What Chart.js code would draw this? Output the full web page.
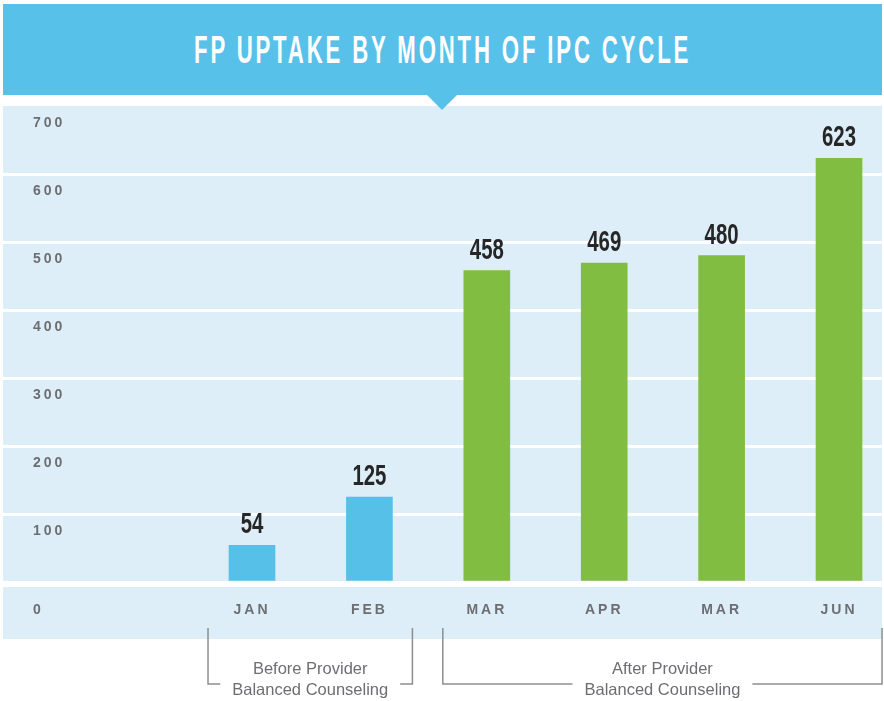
<!DOCTYPE html>
<html>
<head>
<meta charset="utf-8">
<script src="https://cdn.jsdelivr.net/npm/chart.js@4.4.1/dist/chart.umd.min.js"></script>
<style>
  html, body { margin: 0; padding: 0; background: #fff; }
  #wrap { position: relative; width: 884px; height: 701px; overflow: hidden; }
  #chart { position: absolute; left: 0; top: 0; }
  #banner { position: absolute; left: 3px; top: 4px; width: 879px; height: 91px; background: #58c1e9; z-index: 2; }
  #banner:after { content: ''; position: absolute; left: 424px; top: 91px;
    border-left: 15px solid transparent; border-right: 15px solid transparent; border-top: 15px solid #58c1e9; }
  #title { position: absolute; left: 191px; top: 26px; white-space: nowrap; color: #fff;
    font: bold 39px 'Liberation Sans', Arial, sans-serif; line-height: 39px; letter-spacing: 5px;
    transform-origin: 0 0; }
</style>
</head>
<body>
<div id="wrap">
  <canvas id="chart" width="884" height="701" style="width:884px;height:701px"></canvas>
  <div id="banner"><span id="title">FP UPTAKE BY MONTH OF IPC CYCLE</span></div>
</div>
<script>
const months = ['JAN', 'FEB', 'MAR', 'APR', 'MAR', 'JUN'];
const uptake = [54, 125, 458, 469, 480, 623];
const yTicks = [0, 100, 200, 300, 400, 500, 600, 700];

// groups shown with brackets under the axis
const groupLabels = [['Before Provider', 'Balanced Counseling'], ['After Provider', 'Balanced Counseling']];
const groupFirst = [0, 2];
const groupLast = [1, 5];
const groupColors = ['#57c0e8', '#80bd41'];

// stretch the title to the banner width
const title = document.getElementById('title');
title.style.transform = 'scaleX(' + (497 / title.offsetWidth) + ')';

function groupOf(i) {
    for (let g = 0; g < groupFirst.length; g++) {
        if (i >= groupFirst[g] && i <= groupLast[g]) return g;
    }
    return 0;
}

const labelFont = 'bold 14px "Liberation Sans", Arial, sans-serif';
const gray = '#6d6e71';

const decor = {
    id: 'decor',
    beforeDraw(chart) {
        const { ctx, chartArea: a } = chart;
        ctx.save();
        ctx.fillStyle = '#ddeef8';
        ctx.fillRect(a.left, a.top, a.right - a.left, a.bottom - a.top);
        ctx.fillRect(a.left, a.bottom + 5, a.right - a.left, 52);
        ctx.restore();
        ctx.letterSpacing = '3px';
    },
    beforeDatasetsDraw(chart) {
        chart.ctx.letterSpacing = '0px';
    },
    afterDatasetsDraw(chart) {
        const ctx = chart.ctx;
        const meta = chart.getDatasetMeta(0);
        ctx.save();
        ctx.fillStyle = '#262626';
        ctx.font = 'bold 30px "Liberation Sans", Arial, sans-serif';
        ctx.textAlign = 'center';
        ctx.textBaseline = 'alphabetic';
        meta.data.forEach((bar, i) => {
            ctx.save();
            ctx.translate(bar.x, bar.y - 12);
            ctx.scale(0.68, 1);
            ctx.fillText(String(uptake[i]), 0, 0);
            ctx.restore();
        });
        ctx.restore();
    },
    afterDraw(chart) {
        const { ctx, chartArea: a, scales: { x, y } } = chart;
        ctx.save();
        // the zero label sits in the bottom band
        ctx.letterSpacing = '3px';
        ctx.font = labelFont;
        ctx.fillStyle = gray;
        ctx.textAlign = 'left';
        ctx.textBaseline = 'middle';
        ctx.fillText(String(yTicks[0]), a.left + 30, y.getPixelForValue(yTicks[0]) + 28);

        // brackets
        ctx.letterSpacing = '0px';
        ctx.font = '16.5px "Liberation Sans", Arial, sans-serif';
        ctx.textAlign = 'center';
        ctx.strokeStyle = '#8d8e90';
        ctx.lineWidth = 1.5;
        const top = a.bottom + 46, bot = a.bottom + 102;
        groupLabels.forEach((lines, g) => {
            const x0 = x.getPixelForValue(groupFirst[g]) - 44;
            const x1 = x.getPixelForValue(groupLast[g]) + 43;
            const cx = (x0 + x1) / 2;
            const w = ctx.measureText(lines[1]).width;
            ctx.beginPath();
            ctx.moveTo(x0, top);
            ctx.lineTo(x0, bot);
            ctx.lineTo(cx - w / 2 - 12, bot);
            ctx.moveTo(cx + w / 2 + 12, bot);
            ctx.lineTo(x1, bot);
            ctx.lineTo(x1, top);
            ctx.stroke();
            ctx.fillText(lines[0], cx, a.bottom + 87);
            ctx.fillText(lines[1], cx, a.bottom + 108);
        });
        ctx.restore();
    }
};

new Chart(document.getElementById('chart'), {
    type: 'bar',
    data: {
        datasets: [{
            data: uptake.map((v, i) => ({ x: i, y: v })),
            backgroundColor: uptake.map((v, i) => groupColors[groupOf(i)]),
            barThickness: 46
        }]
    },
    options: {
        responsive: false,
        animation: false,
        layout: { padding: { left: 3, right: 2, top: 106, bottom: 0 } },
        plugins: {
            legend: { display: false },
            tooltip: { enabled: false }
        },
        scales: {
            x: {
                type: 'linear',
                offset: false,
                min: -2.121,
                max: 5.366,
                grid: { display: false, offset: false },
                border: { display: false },
                afterBuildTicks: s => { s.ticks = months.map((m, i) => ({ value: i })); },
                afterFit: s => { s.height = 119; },
                ticks: {
                    callback: v => months[v],
                    color: gray,
                    font: { family: '"Liberation Sans", Arial, sans-serif', size: 14, weight: 'bold' },
                    padding: 12,
                    maxRotation: 0,
                    autoSkip: false
                }
            },
            y: {
                min: 0,
                max: 700,
                afterBuildTicks: s => { s.ticks = yTicks.map(v => ({ value: v })); },
                afterFit: s => { s.width = 0; },
                grid: {
                    color: c => (c.tick && c.tick.value === 700) ? 'rgba(0,0,0,0)' : '#ffffff',
                    lineWidth: 3,
                    drawTicks: false
                },
                border: { display: false },
                ticks: {
                    mirror: true,
                    padding: 30,
                    labelOffset: 17,
                    callback: v => v === 0 ? '' : v,
                    color: gray,
                    font: { family: '"Liberation Sans", Arial, sans-serif', size: 14, weight: 'bold' }
                }
            }
        }
    },
    plugins: [decor]
});
</script>
</body>
</html>
